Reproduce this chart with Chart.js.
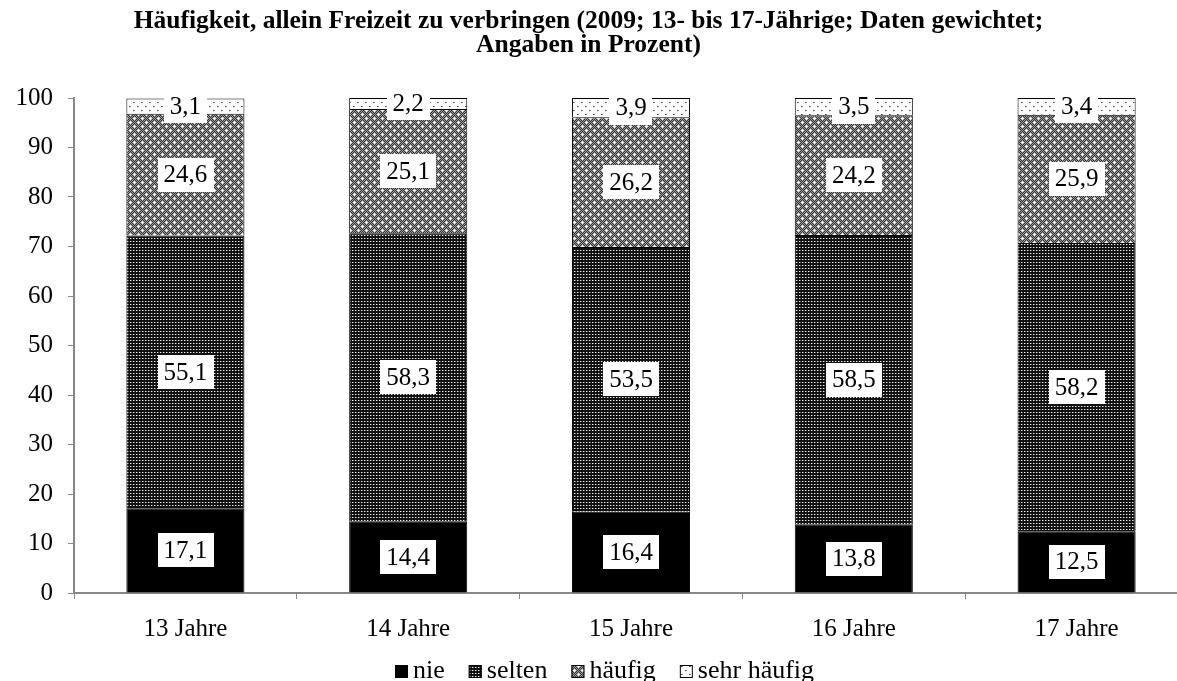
<!DOCTYPE html>
<html>
<head>
<meta charset="utf-8">
<script src="https://cdn.jsdelivr.net/npm/chart.js@4"></script>
<style>
html, body { margin: 0; padding: 0; background: #fff; overflow: hidden; }
#wrap { width: 1177px; height: 681px; overflow: hidden; }
canvas { display: block; }
</style>
</head>
<body>
<div id="wrap"><canvas id="chart" width="1192" height="681"></canvas></div>
<script>
const categories = ['13 Jahre', '14 Jahre', '15 Jahre', '16 Jahre', '17 Jahre'];
const nie = [17.1, 14.4, 16.4, 13.8, 12.5];
const selten = [55.1, 58.3, 53.5, 58.5, 58.2];
const haeufig = [24.6, 25.1, 26.2, 24.2, 25.9];
const sehrHaeufig = [3.1, 2.2, 3.9, 3.5, 3.4];
const seriesNames = ['nie', 'selten', 'häufig', 'sehr häufig'];
const titleLines = [
    'Häufigkeit, allein Freizeit zu verbringen (2009; 13- bis 17-Jährige; Daten gewichtet;',
    'Angaben in Prozent)'
];

const axisColor = '#888888';
const serif = '"Liberation Serif", "Times New Roman", serif';
const canvas = document.getElementById('chart');
const mainCtx = canvas.getContext('2d');

// small tiles for the excel-like hatch fills
function makePattern(size, paint) {
    const c = document.createElement('canvas');
    c.width = size;
    c.height = size;
    const g = c.getContext('2d');
    const px = (x, y, col) => { g.fillStyle = col; g.fillRect(x, y, 1, 1); };
    paint(g, px);
    return mainCtx.createPattern(c, 'repeat');
}

const seltenFill = makePattern(3, (g, px) => {
    g.fillStyle = '#111';
    g.fillRect(0, 0, 3, 3);
    px(1, 1, '#f0f0f0');
    px(2, 1, '#6a6a6a');
});

const haeufigFill = makePattern(8, (g, px) => {
    for (let y = 0; y < 8; y++) {
        for (let x = 0; x < 8; x++) px(x, y, (x + y) % 2 ? '#333333' : '#9c9c9c');
    }
    [[2, 2], [6, 6]].forEach(([x, y]) => {
        px(x, y, '#fff'); px(x - 1, y, '#eee'); px(x + 1, y, '#eee');
        px(x, y - 1, '#eee'); px(x, y + 1, '#eee');
    });
});

const sehrFill = makePattern(8, (g, px) => {
    g.fillStyle = '#fff';
    g.fillRect(0, 0, 8, 8);
    px(1, 2, '#444'); px(2, 2, '#888');
    px(5, 6, '#444'); px(6, 6, '#888');
});

const fills = ['#000000', seltenFill, haeufigFill, sehrFill];

const decor = {
    id: 'decor',
    afterDatasetsDraw(chart) {
        const ctx = chart.ctx;
        ctx.save();
        ctx.font = '25px ' + serif;
        ctx.textAlign = 'center';
        ctx.textBaseline = 'middle';
        chart.data.datasets.forEach((ds, i) => {
            chart.getDatasetMeta(i).data.forEach((bar, j) => {
                const txt = ds.data[j].toFixed(1).replace('.', ',');
                const w = ctx.measureText(txt).width + 12;
                const h = 34;
                const cy = (bar.y + bar.base) / 2;
                ctx.fillStyle = '#fff';
                ctx.fillRect(Math.round(bar.x - w / 2), Math.round(cy - h / 2), Math.round(w), h);
                ctx.fillStyle = '#000';
                ctx.fillText(txt, bar.x, cy + 1);
            });
        });
        ctx.restore();
    },
    afterDraw(chart) {
        const ctx = chart.ctx;
        ctx.save();
        ctx.fillStyle = '#000';
        ctx.textAlign = 'center';
        ctx.textBaseline = 'alphabetic';
        ctx.font = 'bold 25.5px ' + serif;
        titleLines.forEach((line, k) => ctx.fillText(line, 588.5, 28 + k * 23.5));

        // legend
        ctx.font = '26px ' + serif;
        ctx.textAlign = 'left';
        const box = 13, gap = 5, spacing = 24, base = 678;
        const widths = seriesNames.map(n => ctx.measureText(n).width);
        const total = widths.reduce((a, w) => a + box + gap + w, 0) + spacing * (seriesNames.length - 1);
        let x = Math.round(605 - total / 2);
        seriesNames.forEach((n, i) => {
            ctx.fillStyle = fills[i];
            ctx.fillRect(x, base - box, box, box);
            ctx.strokeStyle = '#000';
            ctx.lineWidth = 1;
            ctx.strokeRect(x + 0.5, base - box + 0.5, box - 1, box - 1);
            ctx.fillStyle = '#000';
            ctx.fillText(n, x + box + gap, base);
            x += box + gap + widths[i] + spacing;
        });
        ctx.restore();
    }
};

const datasets = [nie, selten, haeufig, sehrHaeufig].map((values, i) => ({
    label: seriesNames[i],
    data: values,
    backgroundColor: fills[i],
    borderColor: '#000',
    borderWidth: 1
}));

new Chart(canvas, {
    type: 'bar',
    data: { labels: categories, datasets: datasets },
    options: {
        responsive: false,
        animation: false,
        layout: { padding: { top: 98, left: 15, right: 4, bottom: 0 } },
        datasets: { bar: { categoryPercentage: 1, barPercentage: 0.53 } },
        plugins: {
            legend: { display: false },
            title: { display: false },
            tooltip: { enabled: false }
        },
        scales: {
            x: {
                stacked: true,
                grid: { offset: true, drawOnChartArea: false, drawTicks: true, tickLength: 6, color: axisColor },
                border: { color: axisColor, width: 2 },
                ticks: { color: '#000', font: { family: serif, size: 25 }, padding: 15 },
                afterFit(s) { s.height = 88; }
            },
            y: {
                stacked: true,
                min: 0,
                max: 100,
                grid: { drawOnChartArea: false, drawTicks: true, tickLength: 6, color: axisColor },
                border: { color: axisColor, width: 2 },
                ticks: { stepSize: 10, color: '#000', font: { family: serif, size: 25 }, padding: 15 },
                afterFit(s) { s.width = 59; }
            }
        }
    },
    plugins: [decor]
});
</script>
</body>
</html>
